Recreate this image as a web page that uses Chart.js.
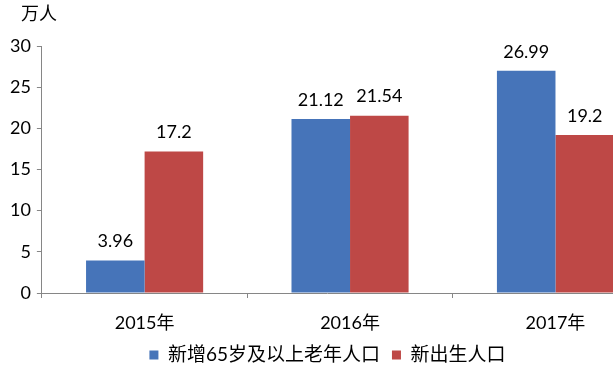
<!DOCTYPE html>
<html>
<head>
<meta charset="utf-8">
<script src="https://cdn.jsdelivr.net/npm/chart.js@4/dist/chart.umd.min.js"></script>
<style>
  html, body { margin: 0; padding: 0; background: #fff; }
  #wrap { width: 613px; height: 370px; }
</style>
</head>
<body>
<div id="wrap"><canvas id="myChart"></canvas></div>
<script>
const categories = ['2015年', '2016年', '2017年'];
const seriesNames = ['新增65岁及以上老年人口', '新出生人口'];
const elderly = [3.96, 21.12, 26.99];
const births = [17.2, 21.54, 19.2];
const yTicks = [0, 5, 10, 15, 20, 25, 30];
const unitLabel = '万人';

const FONT = "Lato, 'Noto Sans CJK SC', sans-serif";

// values above each bar
const valueLabels = {
  id: 'valueLabels',
  afterDatasetsDraw(chart) {
    const ctx = chart.ctx;
    ctx.save();
    ctx.font = '18px ' + FONT;
    ctx.fillStyle = '#000';
    ctx.textAlign = 'center';
    ctx.textBaseline = 'middle';
    chart.data.datasets.forEach((ds, i) => {
      chart.getDatasetMeta(i).data.forEach((bar, j) => {
        ctx.fillText(String(ds.data[j].y), bar.x, bar.y - 19);
      });
    });
    ctx.restore();
  }
};

// unit text above the y axis
const unitText = {
  id: 'unitText',
  afterDraw(chart) {
    const ctx = chart.ctx;
    const y = chart.scales.y;
    ctx.save();
    ctx.font = '18px ' + FONT;
    ctx.fillStyle = '#000';
    ctx.textAlign = 'center';
    ctx.textBaseline = 'middle';
    ctx.fillText(unitLabel, y.right - 3, chart.chartArea.top - 32);
    ctx.restore();
  }
};

const ctx = document.getElementById('myChart');
new Chart(ctx, {
  type: 'bar',
  data: {
    datasets: [{
      label: seriesNames[0],
      data: elderly.map((v, i) => ({ x: i, y: v })),
      backgroundColor: '#4674B9',
    }, {
      label: seriesNames[1],
      data: births.map((v, i) => ({ x: i, y: v })),
      backgroundColor: '#BE4846',
    }]
  },
  options: {
    responsive: true,
    maintainAspectRatio: false,
    animation: false,
    categoryPercentage: 0.57,
    barPercentage: 1.0,
    layout: { padding: { top: 46, left: 4, right: 0, bottom: -4.5 } },
    scales: {
      x: {
        type: 'linear',
        offset: false,
        min: -0.5,
        max: 2.28,
        afterBuildTicks: (axis) => { axis.ticks = categories.map((c, i) => ({ value: i })); },
        afterFit: (axis) => { axis.height = 40.5; },
        ticks: {
          callback: (v) => categories[v],
          color: '#000',
          font: { family: FONT, size: 18 },
          padding: 14,
          maxRotation: 0,
          autoSkip: false
        },
        grid: { offset: true, drawOnChartArea: false, tickLength: 5, color: '#868686' },
        border: { color: '#868686' }
      },
      y: {
        min: 0,
        max: 30,
        afterBuildTicks: (axis) => { axis.ticks = yTicks.map(v => ({ value: v })); },
        ticks: {
          color: '#000',
          font: { family: FONT, size: 18 },
          padding: 6
        },
        grid: { drawOnChartArea: false, tickLength: 5, color: '#868686' },
        border: { color: '#868686' }
      }
    },
    plugins: {
      legend: {
        position: 'bottom',
        fullSize: false,
        labels: {
          boxWidth: 9,
          boxHeight: 9,
          padding: 12,
          color: '#000',
          font: { family: FONT, size: 19 }
        }
      },
      tooltip: { enabled: false }
    }
  },
  plugins: [valueLabels, unitText]
});
</script>
</body>
</html>
